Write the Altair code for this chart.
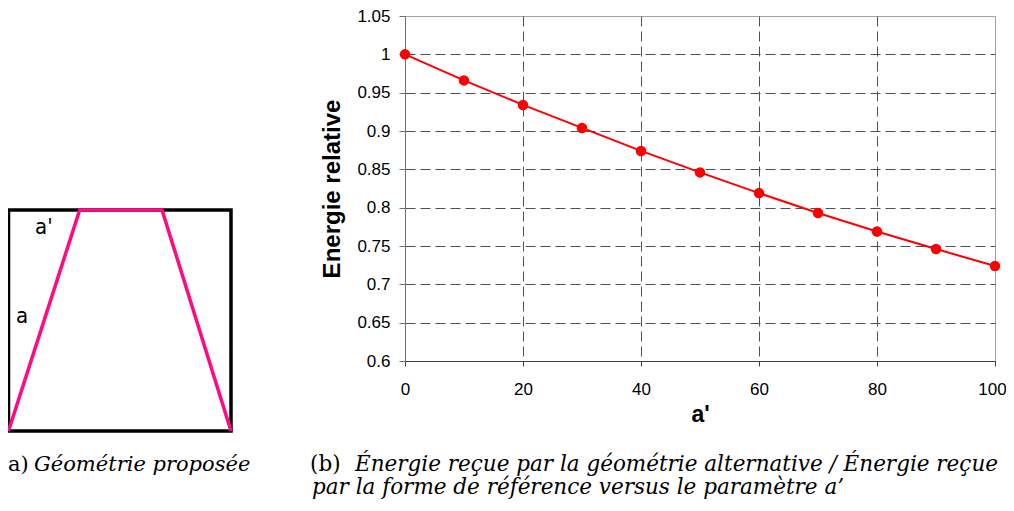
import altair as alt
import pandas as pd

# ---- data ----
a_prime = [0, 10, 20, 30, 40, 50, 60, 70, 80, 90, 100]
energie = [1.0, 0.966, 0.934, 0.904, 0.874, 0.846, 0.819, 0.793, 0.769, 0.746, 0.724]

y_ticks = [0.6, 0.65, 0.7, 0.75, 0.8, 0.85, 0.9, 0.95, 1.0, 1.05]
x_ticks = [0, 20, 40, 60, 80, 100]

# geometry sketch (unit square and the proposed trapezoid)
square_x = [0, 1, 1, 0, 0]
square_y = [0, 0, 1, 1, 0]
trap_x = [0, 0.32, 0.69, 1]
trap_y = [0, 1, 1, 0]

caption_a_num = "a)"
caption_a = "Géométrie proposée"
caption_b_num = "(b)"
caption_b1 = "Énergie reçue par la géométrie alternative / Énergie reçue"
caption_b2 = "par la forme de référence versus le paramètre a’"

# ---- layout ----
W, H = 590, 345
SANS = "Liberation Sans, Arial, sans-serif"
SERIF = "DejaVu Serif, serif"
COND = "Liberation Sans Narrow, DejaVu Sans Condensed, DejaVu Sans, sans-serif"
PINK = "#ff0a80"
RED = "#ff0000"
GRID = "#505050"

df = pd.DataFrame({"a": a_prime, "e": energie})

xs = alt.Scale(domain=[0, 100], nice=False, zero=False)
ys = alt.Scale(domain=[0.6, 1.05], nice=False, zero=False)

x_axis = alt.Axis(
    values=x_ticks, title="a'", orient="bottom", grid=True,
    gridDash=[10, 5], gridColor=GRID,
    gridOpacity={"condition": {"test": "datum.value >= 99", "value": 0}, "value": 1},
    domainColor="#404040", tickColor="#404040", tickSize=5,
    labelFont=SANS, labelFontSize=17, labelColor="#000000", labelPadding=15,
    labelOffset={"condition": {"test": "datum.value >= 99", "value": -3}, "value": 0},
    labelFlush=False, labelOverlap=False,
    titleFont=SANS, titleFontSize=23, titleFontWeight="bold", titleColor="#000000",
    titlePadding=6,
)
y_axis = alt.Axis(
    values=y_ticks, format="~g", title="Energie relative", orient="left", grid=True,
    gridDash=[10, 5], gridColor=GRID,
    gridOpacity={"condition": {"test": "datum.value >= 1.04", "value": 0}, "value": 1},
    domainColor="#707070", tickColor="#707070", tickSize=6,
    labelFont=SANS, labelFontSize=17, labelColor="#000000", labelPadding=9,
    labelFlush=False, labelOverlap=False,
    titleFont=SANS, titleFontSize=24, titleFontWeight="bold", titleColor="#000000",
    titlePadding=12,
)

line = alt.Chart(df).mark_line(color=RED, strokeWidth=2).encode(
    x=alt.X("a:Q", scale=xs, axis=x_axis),
    y=alt.Y("e:Q", scale=ys, axis=y_axis),
)
points = alt.Chart(df).mark_circle(color=RED, size=110, opacity=1).encode(
    x=alt.X("a:Q", scale=xs, axis=x_axis),
    y=alt.Y("e:Q", scale=ys, axis=y_axis),
)
main = alt.layer(line, points)

# diagram drawn with its own scales, placed left of the plot area
dx = alt.Scale(domain=[0, 1], range=[-396.5, -174], nice=False, zero=False)
dy = alt.Scale(domain=[0, 1], range=[415, 194], nice=False, zero=False)

sq_df = pd.DataFrame({"x": square_x, "y": square_y, "o": list(range(len(square_x)))})
tr_df = pd.DataFrame({"x": trap_x, "y": trap_y, "o": list(range(len(trap_x)))})

square = alt.Chart(sq_df).mark_line(color="#000000", strokeWidth=3.5, strokeCap="square", strokeJoin="miter").encode(
    x=alt.X("x:Q", scale=dx, axis=None),
    y=alt.Y("y:Q", scale=dy, axis=None),
    order="o:O",
)
trap = alt.Chart(tr_df).mark_line(color=PINK, strokeWidth=3.5, strokeJoin="miter").encode(
    x=alt.X("x:Q", scale=dx, axis=None),
    y=alt.Y("y:Q", scale=dy, axis=None),
    order="o:O",
)
diagram = alt.layer(square, trap)


def label(txt, x, y, font, size, style="normal", weight="normal"):
    return alt.Chart(pd.DataFrame({"t": [txt]})).mark_text(
        align="left", baseline="alphabetic", font=font, fontSize=size,
        fontStyle=style, fontWeight=weight, color="#000000",
    ).encode(text="t:N", x=alt.value(x), y=alt.value(y))


texts = [
    label("a'", -370, 218, COND, 22),
    label("a", -389, 307, COND, 22),
    label(caption_a_num, -397, 455, SERIF, 21),
    label(caption_a, -371, 455, SERIF, 21, style="italic"),
    label(caption_b_num, -95, 455, SERIF, 21.5),
    label(caption_b1, -50, 455, SERIF, 21.5, style="italic"),
    label(caption_b2, -93, 478, SERIF, 21.5, style="italic"),
]

chart = alt.layer(main, diagram, *texts).resolve_scale(
    x="independent", y="independent"
).properties(
    width=W, height=H,
    padding={"left": 397, "top": 8, "right": 11, "bottom": 138},
    autosize=alt.AutoSizeParams(type="none"),
).configure_view(stroke="#a0a0a0", strokeWidth=1)

chart.save("out.html", embed_options={"renderer": "svg", "actions": False})
